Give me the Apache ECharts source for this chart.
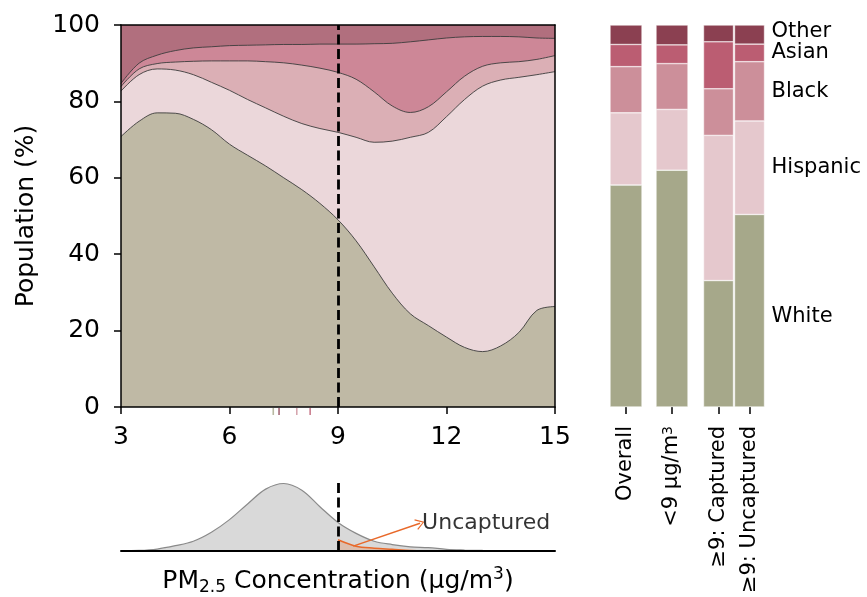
<!DOCTYPE html>
<html>
<head>
<meta charset="utf-8">
<script src="https://cdn.jsdelivr.net/npm/echarts@6/dist/echarts.min.js"></script>
<style>html,body{margin:0;padding:0;background:#fff}#c{width:867px;height:597px}</style>
</head>
<body>
<div id="c"></div>
<script>
// ---------- data ----------
const races = ['White', 'Hispanic', 'Black', 'Asian', 'Other'];
const pm = [3,3.5,4,4.5,5,5.5,6,6.5,7,7.5,8,8.5,9,9.5,10,10.5,11,11.5,12,12.5,13,13.5,14,14.5,15];
const shareWhite    = [70.8,74.8,77.0,76.9,75.3,72.6,68.8,65.9,63.1,60.0,56.9,53.3,49.0,43.5,36.7,29.8,24.4,21.3,18.3,15.6,14.5,16.0,19.5,25.3,26.3];
const shareHispanic = [11.9,12.2,11.5,11.3,11.7,12.4,14.1,14.6,15.2,16.1,17.3,19.6,22.9,27.1,32.6,39.8,46.2,50.6,57.7,64.9,69.5,69.6,66.8,61.7,61.5];
const shareBlack    = [1.2,1.5,1.4,2.1,3.5,5.6,7.7,10.1,12.1,14.0,15.3,15.8,15.7,15.2,13.2,9.2,6.5,6.7,6.5,6.1,5.2,4.5,4.1,4.0,4.2];
const shareAsian    = [0.8,1.5,2.2,3.0,3.5,3.7,4.0,4.1,4.4,4.8,5.4,6.3,7.4,9.2,12.6,16.4,18.5,17.5,14.1,10.3,7.8,6.9,6.5,5.6,4.5];
const shareOther    = [15.3,10.0,7.9,6.7,6.0,5.7,5.4,5.3,5.2,5.1,5.1,5.0,5.0,5.0,4.9,4.8,4.4,3.9,3.4,3.1,3.0,3.0,3.1,3.4,3.5];

const density = [0.001,0.002,0.007,0.019,0.035,0.067,0.112,0.168,0.221,0.241,0.217,0.158,0.102,0.063,0.035,0.023,0.015,0.012,0.006,0.0035,0.002,0.0014,0.001,0.0007,0.0004];
const pmUncaptured = [9, 9.5, 10, 10.5, 11, 11.5, 12];
const densityUncaptured = [0.040, 0.017, 0.010, 0.006, 0.002, 0.0005, 0];

const rugRaces = ['White', 'Other', 'Black', 'Asian'];
const rugValues = [7.21, 7.37, 7.86, 8.23];

const standard = 9;
const xTicks = [3, 6, 9, 12, 15];

const barCatsA = ['Overall', '<9 µg/m³'];
const barCatsB = ['≥9: Captured', '≥9: Uncaptured'];
const barWhite    = [58.1, 62.0, 33.1, 50.4];
const barHispanic = [18.9, 15.9, 38.0, 24.5];
const barBlack    = [12.1, 12.0, 12.2, 15.5];
const barAsian    = [5.8, 4.9, 12.3, 4.6];
const barOther    = [5.1, 5.2, 4.4, 5.0];

// annotation anchors (data units of the density panel)
const arrowFrom = [9.42, 0.0175];
const arrowTo = [11.27, 0.099];
const dashTop = 0.251;

// ---------- styling ----------
const FONT = 'DejaVu Sans';
const areaColors = {White:'#bfb9a5', Hispanic:'#ebd7da', Black:'#dbafb5', Asian:'#cd8797', Other:'#b16f7e'};
const barColors  = {White:'#a6a88a', Hispanic:'#e5c8cd', Black:'#cc8f9a', Asian:'#bb5d72', Other:'#8b4051'};
const labelOffsets = {White: 6, Hispanic: 0, Black: 0, Asian: 0, Other: -3};

const shares = [shareWhite, shareHispanic, shareBlack, shareAsian, shareOther];
const barShares = [barWhite, barHispanic, barBlack, barAsian, barOther];

// cumulative tops of each band (built from the shares above)
const cumulative = [];
shares.forEach((arr, i) => {
  cumulative.push(arr.map((v, j) => (i === 0 ? 0 : cumulative[i - 1][j]) + v));
});

const chart = echarts.init(document.getElementById('c'), null, {renderer: 'canvas'});

const dashStyle = {color: '#000', width: 2.8, type: [10, 4.5]};

const series = [];
// draw from the top band downwards so each lower band covers the previous one
for (let i = races.length - 1; i >= 0; i--) {
  const r = races[i];
  series.push({
    type: 'line', name: r, xAxisIndex: 0, yAxisIndex: 0,
    smooth: 0.35, symbol: 'none', z: 2,
    data: pm.map((x, j) => [x, cumulative[i][j]]),
    lineStyle: {color: '#3c3c3c', width: i === races.length - 1 ? 0 : 0.9},
    areaStyle: {color: areaColors[r], opacity: 1, origin: 'start'}
  });
}
// dashed threshold line on main panel
series.push({
  type: 'line', xAxisIndex: 0, yAxisIndex: 0, data: [], z: 4,
  markLine: {silent: true, symbol: 'none', label: {show: false},
    lineStyle: dashStyle, data: [{xAxis: standard}]}
});
// rug ticks
series.push({
  type: 'scatter', xAxisIndex: 2, yAxisIndex: 2, symbol: 'rect', symbolSize: [1.6, 7],
  data: rugValues.map((v, i) => ({value: [v, 0.5], itemStyle: {color: barColors[rugRaces[i]]}}))
});
// density
series.push({
  type: 'line', xAxisIndex: 3, yAxisIndex: 3, smooth: 0.35, symbol: 'none', z: 2,
  data: pm.map((x, j) => [x, density[j]]),
  lineStyle: {color: '#8a8a8a', width: 1.2},
  areaStyle: {color: '#d9d9d9', opacity: 1},
  markLine: {silent: true, symbol: 'none', label: {show: false},
    lineStyle: dashStyle,
    data: [[{coord: [standard, 0]}, {coord: [standard, dashTop]}]]}
});
series.push({
  type: 'line', xAxisIndex: 3, yAxisIndex: 3, smooth: 0.35, symbol: 'none', z: 3,
  data: pmUncaptured.map((x, j) => [x, densityUncaptured[j]]),
  lineStyle: {color: '#e8692a', width: 1.5},
  areaStyle: {color: 'rgba(232,105,42,0.35)'},
  markLine: {silent: true, symbol: ['none', 'path://M0,10 L5,0 L10,10 L9,10.8 L5,2.2 L1,10.8 Z'],
    symbolSize: [11, 9], label: {show: false},
    lineStyle: {color: '#e8692a', width: 1.5, type: 'solid'},
    itemStyle: {color: '#e8692a'},
    data: [[{coord: arrowFrom}, {coord: arrowTo}]]}
});
series.push({
  type: 'scatter', xAxisIndex: 3, yAxisIndex: 3, symbolSize: 0, z: 5,
  data: [arrowTo],
  label: {show: true, position: 'right', distance: 2, formatter: 'Uncaptured',
    color: '#000000', fontSize: 22, fontFamily: FONT}
});
// stacked bars
races.forEach((r, i) => {
  series.push({
    type: 'bar', xAxisIndex: 4, yAxisIndex: 4, stack: 'ba', barWidth: 32,
    data: barShares[i].slice(0, 2),
    itemStyle: {color: barColors[r], borderColor: '#fff', borderWidth: 0.5}
  });
  const vals = barShares[i].slice(2, 4);
  series.push({
    type: 'bar', xAxisIndex: 5, yAxisIndex: 5, stack: 'bb', barWidth: 30,
    data: [vals[0], {value: vals[1], label: {show: true, position: 'right', distance: 7,
      formatter: r, offset: [0, labelOffsets[r]], color: '#000', fontSize: 21, fontFamily: FONT}}],
    itemStyle: {color: barColors[r], borderColor: '#fff', borderWidth: 0.5}
  });
});

const blackLine = {show: true, onZero: false, lineStyle: {color: '#000', width: 1.5}};
const hiddenValueX = (grid) => ({type: 'value', gridIndex: grid, min: 3, max: 15, show: false});
const barCatAxis = (grid, cats) => ({
  type: 'category', gridIndex: grid, data: cats,
  axisLine: {show: false},
  axisTick: {show: true, alignWithLabel: true, length: 7, lineStyle: {color: '#000', width: 1.5}},
  axisLabel: {rotate: 90, margin: 19, fontSize: 21, fontFamily: FONT, color: '#000', interval: 0,
    formatter: v => v.replace('³', '{sup|3}'),
    rich: {sup: {fontSize: 14, lineHeight: 14, verticalAlign: 'top', fontFamily: FONT, color: '#000'}}}
});

const option = {
  animation: false,
  backgroundColor: '#fff',
  textStyle: {fontFamily: FONT},
  grid: [
    {left: 121, top: 25, width: 434, height: 382},
    {left: 121, top: 408, width: 434, height: 7},
    {left: 121, top: 467, width: 434, height: 86},
    {left: 603, top: 25, width: 92, height: 382},
    {left: 703, top: 25, width: 62, height: 382}
  ],
  xAxis: [
    {type: 'value', gridIndex: 0, min: xTicks[0], max: xTicks[xTicks.length - 1], interval: 3, z: 6,
      axisLine: blackLine,
      axisTick: {show: true, length: 7, lineStyle: {color: '#000', width: 1.5}},
      axisLabel: {fontSize: 25, fontFamily: FONT, color: '#000', margin: 18},
      splitLine: {show: false}},
    {type: 'value', gridIndex: 0, position: 'top', min: 3, max: 15, z: 6,
      axisLine: blackLine, axisTick: {show: false}, axisLabel: {show: false}, splitLine: {show: false}},
    hiddenValueX(1),
    {type: 'value', gridIndex: 2, min: 3, max: 15, z: 6,
      axisLine: {show: true, onZero: false, lineStyle: {color: '#000', width: 2}},
      axisTick: {show: false}, axisLabel: {show: false}, splitLine: {show: false},
      name: '{n|PM}{sub|2.5}{n| Concentration (µg/m}{sup|3}{n|)}',
      nameLocation: 'middle', nameGap: 15,
      nameTextStyle: {color: '#000', fontSize: 25, fontFamily: FONT,
        rich: {
          n: {fontSize: 25, lineHeight: 30, fontFamily: FONT, color: '#000'},
          sub: {fontSize: 17, lineHeight: 17, verticalAlign: 'bottom', fontFamily: FONT, color: '#000'},
          sup: {fontSize: 17, lineHeight: 17, verticalAlign: 'top', fontFamily: FONT, color: '#000'}
        }}},
    barCatAxis(3, barCatsA),
    barCatAxis(4, barCatsB)
  ],
  yAxis: [
    {type: 'value', gridIndex: 0, min: 0, max: 100, interval: 20, z: 6,
      axisLine: blackLine,
      axisTick: {show: true, length: 7, lineStyle: {color: '#000', width: 1.5}},
      axisLabel: {fontSize: 25, fontFamily: FONT, color: '#000', margin: 21},
      splitLine: {show: false},
      name: 'Population (%)', nameLocation: 'middle', nameGap: 82,
      nameTextStyle: {fontSize: 25, fontFamily: FONT, color: '#000'}},
    {type: 'value', gridIndex: 0, position: 'right', min: 0, max: 100, z: 6,
      axisLine: blackLine, axisTick: {show: false}, axisLabel: {show: false}, splitLine: {show: false}},
    {type: 'value', gridIndex: 1, min: 0, max: 1, show: false},
    {type: 'value', gridIndex: 2, min: 0, max: 0.3, show: false},
    {type: 'value', gridIndex: 3, min: 0, max: 100, show: false},
    {type: 'value', gridIndex: 4, min: 0, max: 100, show: false}
  ],
  series: series
};
chart.setOption(option);
</script>
</body>
</html>
